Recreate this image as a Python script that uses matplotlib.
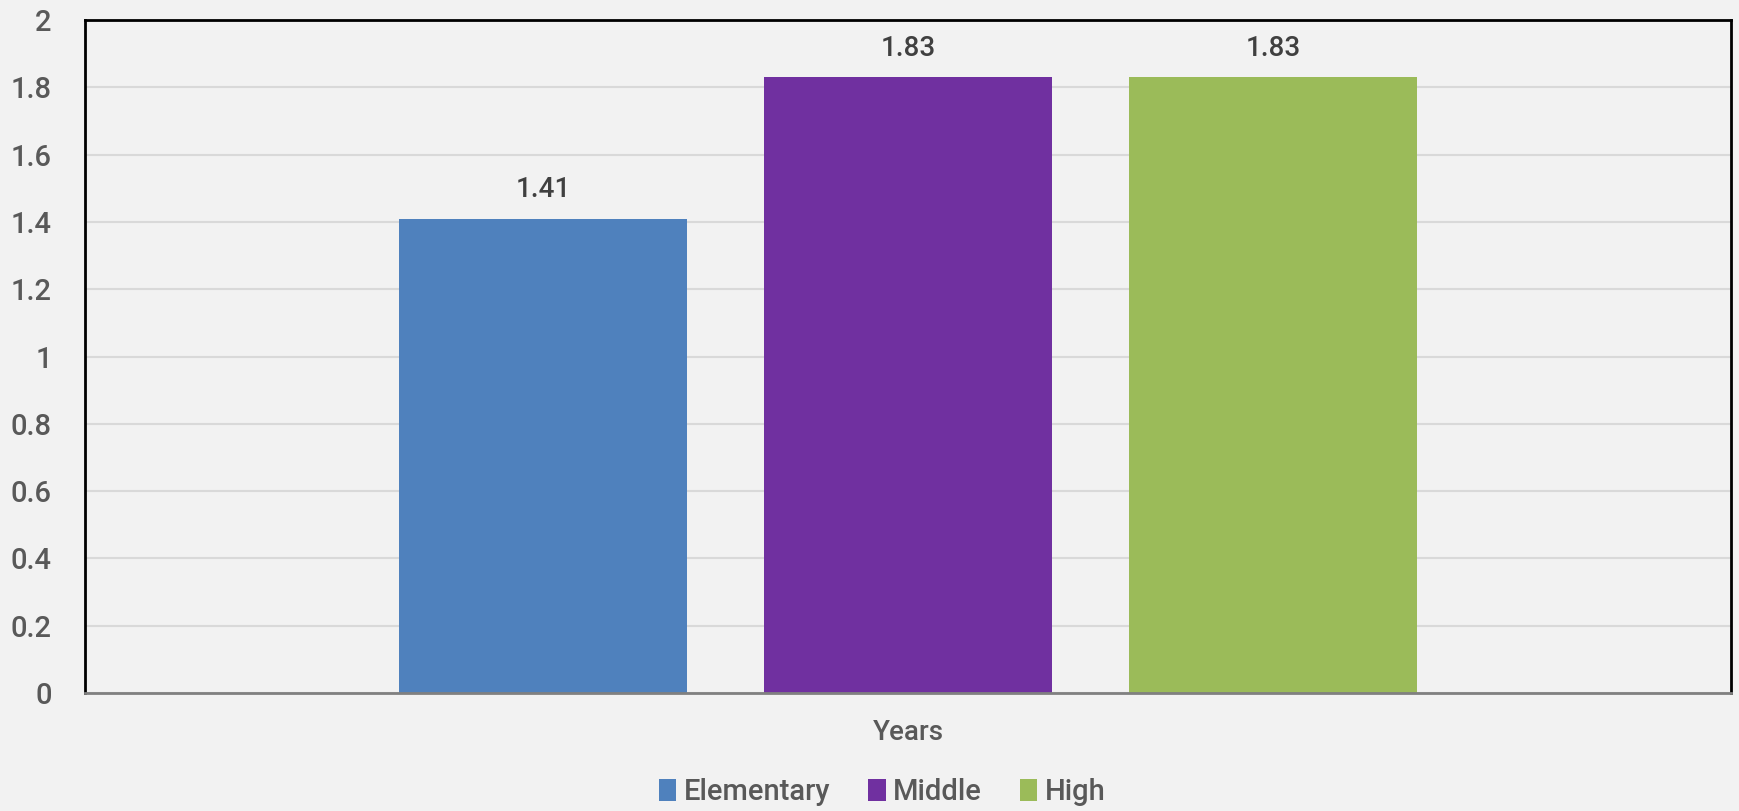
import numpy as np
import matplotlib
matplotlib.use('Agg')
import matplotlib.pyplot as plt
from matplotlib.patches import Patch

series = ["Elementary", "Middle", "High"]
values = [1.41, 1.83, 1.83]
colors = ["#4F81BD", "#7030A0", "#9BBB59"]
category = "Years"
yticks = [0, 0.2, 0.4, 0.6, 0.8, 1, 1.2, 1.4, 1.6, 1.8, 2]
ytick_labels = ["0", "0.2", "0.4", "0.6", "0.8", "1", "1.2", "1.4", "1.6", "1.8", "2"]

plt.rcParams['font.family'] = ['Roboto', 'DejaVu Sans']
text_color = "#595959"

fig = plt.figure(figsize=(17.39, 8.11), dpi=100, facecolor="#F2F2F2")
ax = fig.add_axes([85 / 1739, 1 - 693 / 811, 1646 / 1739, 673 / 811])
ax.set_facecolor("#F2F2F2")

x = np.arange(len(series)) - 1
bars = ax.bar(x, values, width=0.789, color=colors, zorder=3)
for b, v in zip(bars, values):
    ax.annotate(f"{v:.2f}", (b.get_x() + b.get_width() / 2, v), xytext=(0, 11),
                textcoords="offset points", ha="center", va="bottom",
                fontsize=20, color="#404040", fontweight="medium")

ax.set_xlim(-2.255, 2.255)
ax.set_ylim(0, 2)
ax.set_yticks(yticks)
ax.set_yticklabels(ytick_labels, fontweight="medium")
ax.set_xticks([])
ax.tick_params(axis='y', length=0, pad=24, labelsize=21, labelcolor=text_color)
ax.grid(axis='y', color="#D9D9D9", linewidth=1.5, zorder=0)

for s in ["top", "left", "right"]:
    ax.spines[s].set_color("black")
    ax.spines[s].set_linewidth(2)
ax.spines["bottom"].set_color("#808080")
ax.spines["bottom"].set_linewidth(2)
ax.spines["bottom"].set_zorder(4)

fig.text(908 / 1739, 1 - 732 / 811, category, ha="center", va="center",
         fontsize=20, color=text_color, fontweight="medium")

handles = [Patch(facecolor=c, label=s) for c, s in zip(colors, series)]
fig.legend(handles=handles, loc="center", bbox_to_anchor=(882 / 1739, 1 - 792 / 811),
           ncol=3, frameon=False, prop={'size': 21, 'weight': 'medium'},
           labelcolor=text_color,
           handlelength=0.6, handleheight=0.8, handletextpad=0.25, columnspacing=1.3)

fig.savefig("out.png", dpi=100, facecolor=fig.get_facecolor())
